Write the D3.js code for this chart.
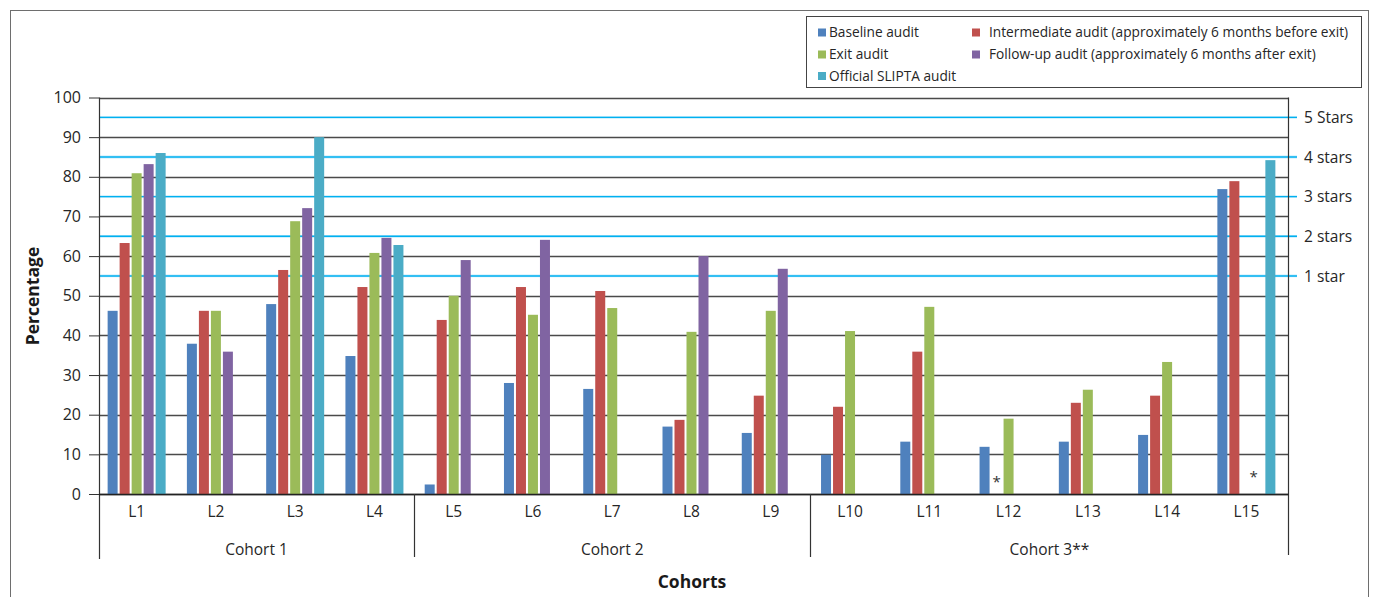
<!DOCTYPE html>
<html>
<head>
<meta charset="utf-8">
<script src="https://cdn.jsdelivr.net/npm/d3@7"></script>
<style>
  html, body { margin: 0; padding: 0; background: #fff; }
  svg { display: block; font-family: "Open Sans", sans-serif; }
</style>
</head>
<body>
<svg id="chart" width="1373" height="597"></svg>
<script>
const categories = ["L1","L2","L3","L4","L5","L6","L7","L8","L9","L10","L11","L12","L13","L14","L15"];
const cohorts = [
  {name: "Cohort 1", from: 0, to: 4},
  {name: "Cohort 2", from: 4, to: 9},
  {name: "Cohort 3**", from: 9, to: 15}
];
const seriesNames = [
  "Baseline audit",
  "Intermediate audit (approximately 6 months before exit)",
  "Exit audit",
  "Follow-up audit (approximately 6 months after exit)",
  "Official SLIPTA audit"
];
const seriesColors = ["#4f81bd", "#c0504d", "#9bbb59", "#8064a2", "#4bacc6"];
const baseline     = [46.2, 37.9, 47.9, 34.8, 2.4, 28.0, 26.5, 17.0, 15.4, 9.9, 13.2, 11.9, 13.2, 14.9, 76.9];
const intermediate = [63.3, 46.2, 56.5, 52.2, 43.9, 52.2, 51.2, 18.7, 24.8, 22.0, 35.9, null, 23.0, 24.8, 78.9];
const exitAudit    = [80.9, 46.2, 68.8, 60.8, 50.0, 45.2, 46.9, 40.9, 46.2, 41.1, 47.2, 19.0, 26.3, 33.3, null];
const followUp     = [83.2, 35.9, 72.1, 64.6, 59.0, 64.1, null, 60.0, 56.8, null, null, null, null, null, null];
const official     = [86.0, null, 90.0, 62.8, null, null, null, null, null, null, null, null, null, null, 84.2];
const seriesValues = [baseline, intermediate, exitAudit, followUp, official];
const yTicks = [0,10,20,30,40,50,60,70,80,90,100];
const starLevels = [55, 65, 75, 85, 95];
const starLabels = ["1 star", "2 stars", "3 stars", "4 stars", "5 Stars"];
// asterisks: category and slot position within the cluster
const asterisks = [{cat: "L12", slot: 1}, {cat: "L15", slot: 2.6}];

const svg = d3.select("#chart");
const plotLeft = 99, plotRight = 1288.5, plotTop = 97.5, plotBottom = 494;

const x = d3.scaleBand().domain(categories).range([97, 1286]).paddingInner(0).paddingOuter(0);
const y = d3.scaleLinear().domain([0, 100]).range([plotBottom, plotTop]);
const barW = 10, barStep = 12, nSeries = seriesNames.length;
const clusterW = barStep * (nSeries - 1) + barW;
const slotX = (cat, s) => x(cat) + x.bandwidth() / 2 - clusterW / 2 + s * barStep;

// outer frame
svg.append("rect").attr("x", 10.5).attr("y", 10.5).attr("width", 1358).attr("height", 600)
  .attr("fill", "none").attr("stroke", "#6e6e6e").attr("stroke-width", 1);

// gridlines
svg.append("g").selectAll("line").data(yTicks).join("line")
  .attr("x1", plotLeft).attr("x2", plotRight)
  .attr("y1", d => Math.round(y(d)) + 0.5).attr("y2", d => Math.round(y(d)) + 0.5)
  .attr("stroke", "#4a4a4a").attr("stroke-width", 1.4);

// star level lines
const sg = svg.append("g");
sg.selectAll("line.halo").data(starLevels).join("line")
  .attr("x1", plotLeft).attr("x2", 1297)
  .attr("y1", d => y(d)).attr("y2", d => y(d))
  .attr("stroke", "#c6ecfb").attr("stroke-width", 2.8);
sg.selectAll("line.main").data(starLevels).join("line")
  .attr("x1", plotLeft).attr("x2", 1297)
  .attr("y1", d => y(d)).attr("y2", d => y(d))
  .attr("stroke", "#00b0f0").attr("stroke-width", 1.4);
sg.selectAll("text").data(starLevels).join("text")
  .attr("x", 1304).attr("y", d => y(d)).attr("dy", "0.36em")
  .attr("font-size", 15.5).attr("fill", "#262626")
  .text((d, i) => starLabels[i]);

// bars
const bars = [];
seriesValues.forEach((vals, s) => vals.forEach((v, i) => {
  if (v !== null) bars.push({s, cat: categories[i], v});
}));
svg.append("g").selectAll("rect").data(bars).join("rect")
  .attr("x", d => slotX(d.cat, d.s)).attr("width", barW)
  .attr("y", d => y(d.v)).attr("height", d => y(0) - y(d.v))
  .attr("fill", d => seriesColors[d.s]);

// asterisks
svg.append("g").selectAll("text").data(asterisks).join("text")
  .attr("x", d => slotX(d.cat, d.slot) + barW / 2)
  .attr("y", (d, i) => i === 0 ? 487 : 482).attr("text-anchor", "middle")
  .attr("font-size", 15).attr("fill", "#333").text("*");

// y axis
const yAxis = svg.append("g").attr("transform", `translate(${plotLeft},0)`)
  .call(d3.axisLeft(y).tickValues(yTicks).tickSize(10).tickPadding(8).tickFormat(d3.format("d")));
yAxis.select(".domain").remove();
yAxis.selectAll(".tick line").attr("stroke", "#333").attr("stroke-width", 1);
yAxis.selectAll("text").attr("font-size", 16).attr("fill", "#262626")
  .attr("font-family", "Open Sans, sans-serif").attr("x", -18);
svg.append("line").attr("x1", plotLeft + 0.5).attr("x2", plotLeft + 0.5)
  .attr("y1", plotTop).attr("y2", 559).attr("stroke", "#333").attr("stroke-width", 1.2);

// right border of plot
svg.append("line").attr("x1", plotRight).attr("x2", plotRight)
  .attr("y1", plotTop).attr("y2", 555).attr("stroke", "#333").attr("stroke-width", 1.2);

// x axis
const xAxis = svg.append("g").attr("transform", `translate(0,${plotBottom})`)
  .call(d3.axisBottom(x).tickSize(0).tickPadding(10));
xAxis.select(".domain").attr("d", `M${plotLeft},0.5H${plotRight}`).attr("stroke", "#222").attr("stroke-width", 1.6);
xAxis.selectAll("text").attr("font-size", 15.5).attr("fill", "#262626")
  .attr("font-family", "Open Sans, sans-serif").attr("dy", "0.85em");

// cohort dividers and labels
const cg = svg.append("g");
cohorts.slice(1).forEach(c => {
  const xx = Math.round(x(categories[c.from])) + 0.5;
  cg.append("line").attr("x1", xx).attr("x2", xx).attr("y1", plotBottom).attr("y2", 557)
    .attr("stroke", "#333").attr("stroke-width", 1.2);
});
cg.selectAll("text").data(cohorts).join("text")
  .attr("x", d => {
    const a = d.from === 0 ? plotLeft : x(categories[d.from]);
    const b = d.to === categories.length ? plotRight : x(categories[d.to]);
    return (a + b) / 2;
  })
  .attr("y", 549).attr("dy", "0.36em").attr("text-anchor", "middle")
  .attr("font-size", 15.5).attr("fill", "#262626").text(d => d.name);

// axis titles
svg.append("text").attr("x", 692).attr("y", 582).attr("dy", "0.36em").attr("text-anchor", "middle")
  .attr("font-size", 17.5).attr("font-weight", "bold").attr("fill", "#1a1a1a").text("Cohorts");
svg.append("text").attr("transform", "translate(33,296) rotate(-90)").attr("dy", "0.36em")
  .attr("text-anchor", "middle").attr("font-size", 17.5).attr("font-weight", "bold")
  .attr("fill", "#1a1a1a").text("Percentage");

// legend
const lg = svg.append("g");
lg.append("rect").attr("x", 806.5).attr("y", 16.5).attr("width", 555).attr("height", 71)
  .attr("fill", "#fff").attr("stroke", "#444").attr("stroke-width", 1);
const legendPos = [
  {sx: 818, tx: 829, y: 32.5},
  {sx: 972, tx: 989, y: 32.5},
  {sx: 818, tx: 829, y: 54.5},
  {sx: 972, tx: 989, y: 54.5},
  {sx: 818, tx: 829, y: 76}
];
const li = lg.selectAll("g").data(seriesNames).join("g");
li.append("rect").attr("x", (d, i) => legendPos[i].sx).attr("y", (d, i) => legendPos[i].y - 4)
  .attr("width", 8).attr("height", 8).attr("fill", (d, i) => seriesColors[i]);
li.append("text").attr("x", (d, i) => legendPos[i].tx).attr("y", (d, i) => legendPos[i].y)
  .attr("dy", "0.36em").attr("font-size", 13.7).attr("fill", "#262626").text(d => d);
</script>
</body>
</html>
